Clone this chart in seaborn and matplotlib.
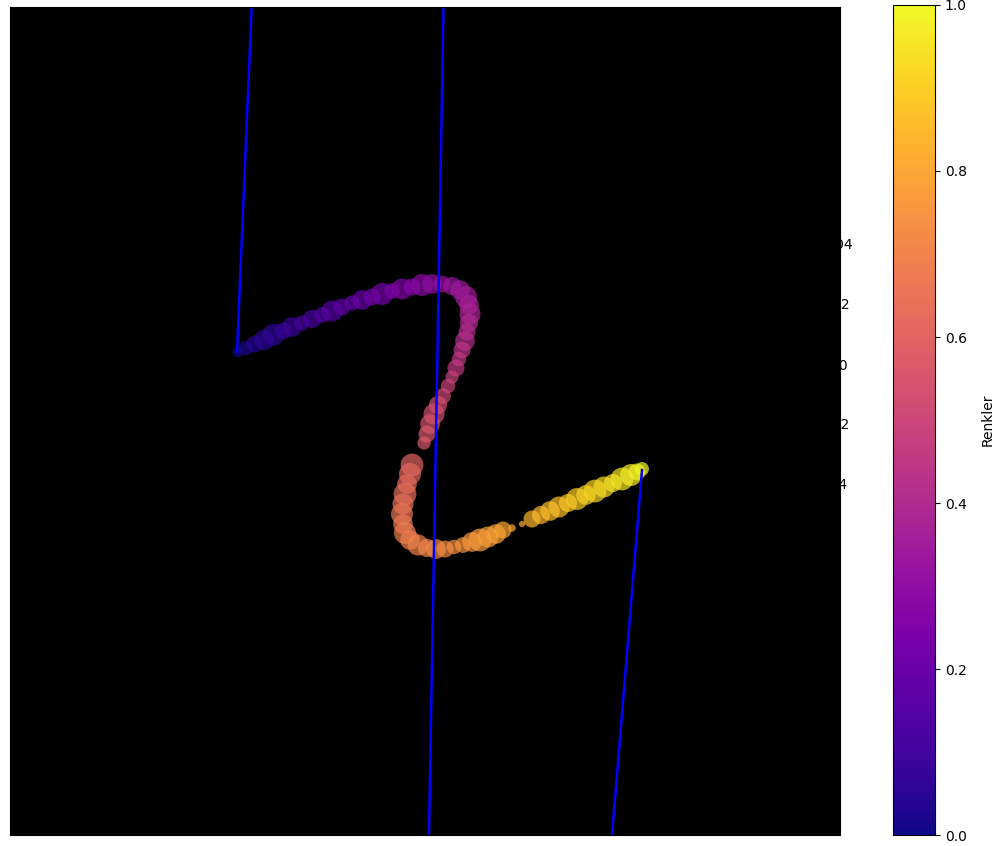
import numpy as np
import pandas as pd
import seaborn as sns
import matplotlib.pyplot as plt
from matplotlib.cm import ScalarMappable
from matplotlib.colors import Normalize

# Egri uzerindeki noktalar
x_deger = [238, 246, 255, 264, 273, 283, 292, 302, 312, 322, 332, 342, 352, 362, 372, 382,
           392, 402, 412, 422, 432, 442, 452, 460, 466, 469, 470, 469, 467, 465, 462, 459,
           456, 452, 448, 443, 438, 434, 430, 427, 424, 412, 410, 407, 405, 403, 402, 403,
           405, 410, 418, 427, 436, 445, 454, 463, 472, 480, 488, 496, 503, 512, 522, 532,
           541, 550, 559, 568, 577, 586, 595, 604, 613, 622, 631, 637, 642]
y_deger = [352, 348, 344, 340, 335, 331, 327, 323, 319, 315, 311, 307, 303, 300, 297, 294,
           291, 289, 287, 285, 284, 284, 286, 290, 297, 305, 314, 323, 332, 341, 350, 359,
           368, 377, 386, 396, 405, 414, 424, 434, 443, 465, 474, 484, 494, 504, 514, 524,
           533, 540, 545, 548, 549, 549, 547, 545, 542, 540, 537, 534, 530, 528, 524, 519,
           515, 511, 507, 503, 499, 495, 491, 487, 483, 479, 475, 472, 469]
boyut = [60, 110, 150, 210, 250, 150, 200, 120, 170, 130, 230, 150, 120, 200, 150, 250,
         130, 230, 150, 250, 200, 150, 170, 200, 250, 200, 230, 170, 150, 200, 150, 110,
         150, 90, 110, 130, 170, 230, 200, 150, 90, 270, 250, 200, 270, 230, 250, 200,
         250, 200, 230, 170, 200, 150, 110, 130, 200, 270, 230, 200, 150, 30, 20, 150,
         170, 200, 230, 170, 250, 200, 270, 230, 170, 270, 250, 150, 100]
renk = [0.00, 0.02, 0.03, 0.05, 0.06, 0.08, 0.09, 0.11, 0.12, 0.14, 0.15, 0.17, 0.18, 0.20,
        0.21, 0.23, 0.24, 0.26, 0.27, 0.29, 0.30, 0.31, 0.33, 0.34, 0.35, 0.37, 0.38, 0.40,
        0.41, 0.42, 0.44, 0.45, 0.46, 0.48, 0.49, 0.50, 0.52, 0.53, 0.54, 0.56, 0.57, 0.60,
        0.61, 0.62, 0.63, 0.64, 0.66, 0.67, 0.68, 0.69, 0.70, 0.71, 0.72, 0.73, 0.74, 0.75,
        0.76, 0.77, 0.78, 0.79, 0.80, 0.81, 0.82, 0.84, 0.85, 0.86, 0.87, 0.88, 0.90, 0.91,
        0.92, 0.93, 0.95, 0.96, 0.97, 0.98, 1.00]

# Mavi cizgiler (NaN ile ayrilmis parcalar)
cizgi_x = [237, 252.4, np.nan, 443.8, 428.7, np.nan, 642, 610.8]
cizgi_y = [352, -10, np.nan, -10, 850, np.nan, 470, 850]

# Yarim gorunen eksen etiketleri
z_etiket = ["0.04", "0.02", "0.00", "\u22120.02", "\u22120.04"]

df = pd.DataFrame({"x": x_deger, "y": y_deger, "renk": renk})

W, H = 1002, 846
fig = plt.figure(figsize=(W / 100, H / 100), dpi=100)

ax = fig.add_axes([10 / W, 1 - 835 / H, 830 / W, 828 / H])
ax.set_facecolor("black")

ax.plot(cizgi_x, cizgi_y, color="blue", linewidth=1.8)
sns.scatterplot(data=df, x="x", y="y", hue="renk", palette="plasma", hue_norm=(0, 1),
                s=boyut, alpha=0.7, linewidth=0, legend=False, ax=ax)

ax.set_xlim(10, 840)
ax.set_ylim(835, 7)
ax.set_xticks([])
ax.set_yticks([])
ax.set_xlabel("")
ax.set_ylabel("")

# Etiketler eksenin altinda kalsin (siyah zemin bir kismini kapatir)
etiket_x = [853, 850, 848, 850, 848]
etiket_y = [245, 305, 366, 425, 485]
for t, px, py in zip(z_etiket, etiket_x, etiket_y):
    fig.text(px / W, 1 - py / H, t, ha="right", va="center", fontsize=10, zorder=-1)

# Renk cubugu
cax = fig.add_axes([893 / W, 1 - 835 / H, 42 / W, 830 / H])
sm = ScalarMappable(norm=Normalize(0, 1), cmap="plasma")
cb = fig.colorbar(sm, cax=cax)
cb.set_label("Renkler", fontsize=10, labelpad=10)
cb.ax.tick_params(labelsize=10)

plt.savefig("out.png", dpi=100)
